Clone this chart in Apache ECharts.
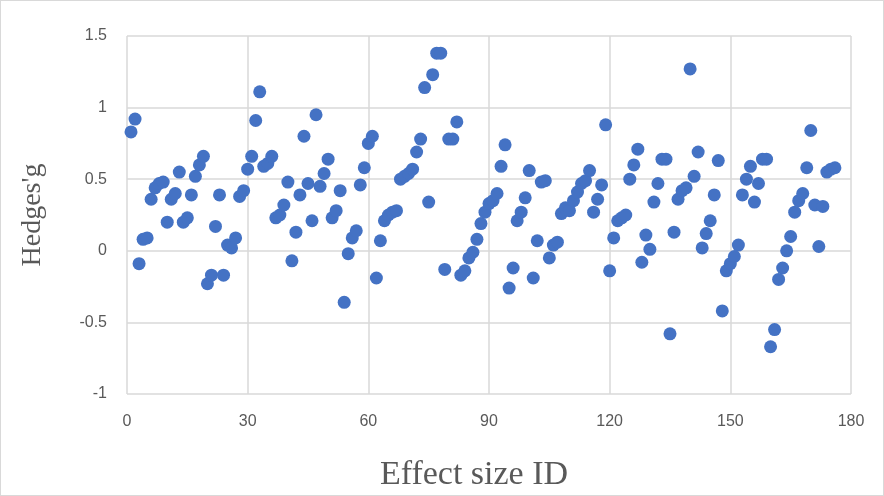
<!DOCTYPE html>
<html>
<head>
<meta charset="utf-8">
<script src="https://cdn.jsdelivr.net/npm/echarts@6/dist/echarts.min.js"></script>
<style>
html,body{margin:0;padding:0;background:#fff;}
#chart{width:884px;height:496px;box-sizing:border-box;border:1px solid #d9d9d9;}
</style>
</head>
<body>
<div id="chart"></div>
<script>
// Effect size IDs 1..176 and Hedges' g values
const hedgesG = [
  0.83, 0.92, -0.09, 0.08, 0.09, 0.36, 0.44, 0.47, 0.48, 0.20,
  0.36, 0.40, 0.55, 0.20, 0.23, 0.39, 0.52, 0.60, 0.66, -0.23,
  -0.17, 0.17, 0.39, -0.17, 0.04, 0.02, 0.09, 0.38, 0.42, 0.57,
  0.66, 0.91, 1.11, 0.59, 0.61, 0.66, 0.23, 0.25, 0.32, 0.48,
  -0.07, 0.13, 0.39, 0.80, 0.47, 0.21, 0.95, 0.45, 0.54, 0.64,
  0.23, 0.28, 0.42, -0.36, -0.02, 0.09, 0.14, 0.46, 0.58, 0.75,
  0.80, -0.19, 0.07, 0.21, 0.25, 0.27, 0.28, 0.50, 0.52, 0.54,
  0.57, 0.69, 0.78, 1.14, 0.34, 1.23, 1.38, 1.38, -0.13, 0.78,
  0.78, 0.90, -0.17, -0.14, -0.05, -0.01, 0.08, 0.19, 0.27, 0.33,
  0.35, 0.40, 0.59, 0.74, -0.26, -0.12, 0.21, 0.27, 0.37, 0.56,
  -0.19, 0.07, 0.48, 0.49, -0.05, 0.04, 0.06, 0.26, 0.30, 0.28,
  0.35, 0.41, 0.47, 0.49, 0.56, 0.27, 0.36, 0.46, 0.88, -0.14,
  0.09, 0.21, 0.23, 0.25, 0.50, 0.60, 0.71, -0.08, 0.11, 0.01,
  0.34, 0.47, 0.64, 0.64, -0.58, 0.13, 0.36, 0.42, 0.44, 1.27,
  0.52, 0.69, 0.02, 0.12, 0.21, 0.39, 0.63, -0.42, -0.14, -0.09,
  -0.04, 0.04, 0.39, 0.50, 0.59, 0.34, 0.47, 0.64, 0.64, -0.67,
  -0.55, -0.20, -0.12, 0.00, 0.10, 0.27, 0.35, 0.40, 0.58, 0.84,
  0.32, 0.03, 0.31, 0.55, 0.57, 0.58
];
const effectIds = hedgesG.map((_, i) => i + 1);
const xTitle = 'Effect size ID';
const yTitle = "Hedges'g";

const points = effectIds.map((id, i) => [id, hedgesG[i]]);

const chart = echarts.init(document.getElementById('chart'));
chart.setOption({
  animation: false,
  grid: { left: 126, right: 32, top: 35, bottom: 101, containLabel: false, outerBoundsMode: 'none' },
  xAxis: {
    type: 'value', min: 0, max: 180, interval: 30,
    name: xTitle, nameLocation: 'middle', nameGap: 64,
    nameTextStyle: { fontFamily: 'Liberation Serif', fontSize: 34, color: '#595959', padding: [0, 30, 0, 0] },
    axisLine: { show: false },
    axisTick: { show: false },
    axisLabel: { margin: 20, fontFamily: 'Liberation Sans', fontSize: 16, color: '#595959' },
    splitLine: { show: true, lineStyle: { color: '#d9d9d9', width: 1.5 } }
  },
  yAxis: {
    type: 'value', min: -1, max: 1.5, interval: 0.5,
    name: yTitle, nameLocation: 'middle', nameGap: 80,
    nameTextStyle: { fontFamily: 'Liberation Serif', fontSize: 28, color: '#595959' },
    axisLine: { show: false },
    axisTick: { show: false },
    axisLabel: { margin: 20, fontFamily: 'Liberation Sans', fontSize: 16, color: '#595959' },
    splitLine: { show: true, lineStyle: { color: '#d9d9d9', width: 1.5 } }
  },
  series: [{
    type: 'scatter',
    data: points,
    symbol: 'circle',
    symbolSize: 13,
    itemStyle: { color: '#4472C4', opacity: 1 }
  }]
});
</script>
</body>
</html>
